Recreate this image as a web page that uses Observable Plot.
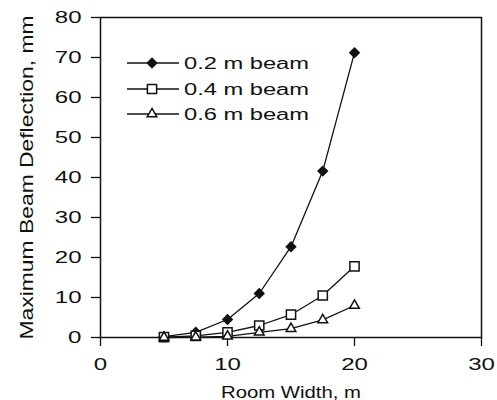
<!DOCTYPE html>
<html>
<head>
<meta charset="utf-8">
<script src="https://cdn.jsdelivr.net/npm/d3@7"></script>
<script src="https://cdn.jsdelivr.net/npm/@observablehq/plot@0.6"></script>
<style>
  html, body { margin: 0; padding: 0; background: #fff; }
  #wrap { position: relative; width: 497px; height: 400px; }
  svg text { fill: #111; }
  g[aria-label="y-axis tick label"] text, g[aria-label="x-axis tick label"] text { font-size: 16px; }
  g[aria-label="y-axis label"] text { font-size: 18px; }
  g[aria-label="x-axis label"] text { font-size: 16px; }
  #legend { position: absolute; left: 0; top: 0; pointer-events: none; }
</style>
</head>
<body>
<div id="wrap"></div>
<script>
const roomWidth = [5, 7.5, 10, 12.5, 15, 17.5, 20];
const beam02 = [0.2, 1.3, 4.5, 11.0, 22.7, 41.6, 71.2];
const beam04 = [0.1, 0.4, 1.3, 3.0, 5.7, 10.5, 17.8];
const beam06 = [0.0, 0.1, 0.3, 1.3, 2.2, 4.4, 8.0];
const seriesNames = ["0.2 m beam", "0.4 m beam", "0.6 m beam"];
const xTicks = [0, 10, 20, 30];
const yTicks = [0, 10, 20, 30, 40, 50, 60, 70, 80];
const xLabel = "Room Width, m";
const yLabel = "Maximum Beam Deflection, mm";

const seriesValues = [beam02, beam04, beam06];
const data = [];
seriesNames.forEach((name, i) => {
  roomWidth.forEach((w, j) => data.push({series: name, width: w, value: seriesValues[i][j]}));
});

const symbols = {"0.2 m beam": "diamond2", "0.4 m beam": "square", "0.6 m beam": "triangle"};
const fills = {"0.2 m beam": "#111", "0.4 m beam": "#fff", "0.6 m beam": "#fff"};
const radii = {"0.2 m beam": 4.2, "0.4 m beam": 5.2, "0.6 m beam": 3.6};

const chart = Plot.plot({
  width: 497,
  height: 400,
  marginLeft: 100,
  marginRight: 16,
  marginTop: 17,
  marginBottom: 63,
  style: {fontFamily: "'Liberation Sans', Arial, sans-serif", background: "#fff", color: "#111"},
  x: {domain: [0, 30], axis: null},
  y: {domain: [0, 80], axis: null},
  marks: [
    Plot.frame({stroke: "#111", strokeWidth: 1.5}),
    Plot.axisX({ticks: xTicks, tickSize: 9, tickPadding: 12, tickFormat: d => String(d), strokeWidth: 1.3,
      label: xLabel, labelAnchor: "center", labelOffset: 60, labelArrow: false}),
    Plot.axisY({ticks: yTicks, tickSize: 9, tickPadding: 10, tickFormat: d => String(d), strokeWidth: 1.3,
      label: yLabel, labelAnchor: "center", labelOffset: 80, labelArrow: false}),
    Plot.line(data, {x: "width", y: "value", z: "series", stroke: "#111", strokeWidth: 1.3}),
    ...seriesNames.map(name => Plot.dot(data.filter(d => d.series === name), {
      x: "width", y: "value", symbol: symbols[name], r: radii[name],
      fill: fills[name], stroke: "#111", strokeWidth: 1.5
    }))
  ]
});
const wrap = document.getElementById("wrap");
wrap.appendChild(chart);

// strip any label arrows
d3.select(chart).selectAll('g[aria-label$="axis label"] text').each(function() {
  this.textContent = this.textContent.replace(/\s*[↑↓→←]\s*/g, "").trim();
});

// widen glyphs to match the expanded typeface of the original
function stretch(sel, factor) {
  sel.each(function() {
    const len = this.getComputedTextLength();
    this.setAttribute("textLength", (len * factor).toFixed(1));
    this.setAttribute("lengthAdjust", "spacingAndGlyphs");
  });
}
stretch(d3.select(chart).selectAll('g[aria-label="y-axis tick label"] text, g[aria-label="x-axis tick label"] text'), 1.5);
stretch(d3.select(chart).selectAll('g[aria-label="y-axis label"] text'), 1.27);
stretch(d3.select(chart).selectAll('g[aria-label="x-axis label"] text'), 1.27);

// Legend overlay
const legendRows = [63, 89, 114];
const lg = d3.select(wrap).append("svg").attr("id", "legend").attr("width", 497).attr("height", 400);
const symMap = {"diamond2": d3.symbolDiamond2, "square": d3.symbolSquare, "triangle": d3.symbolTriangle};
seriesNames.forEach((name, i) => {
  const y = legendRows[i];
  lg.append("line").attr("x1", 127).attr("x2", 179).attr("y1", y).attr("y2", y).attr("stroke", "#111").attr("stroke-width", 1.3);
  const r = radii[name];
  lg.append("path").attr("d", d3.symbol(symMap[symbols[name]], Math.PI * r * r)())
    .attr("transform", `translate(152,${y})`).attr("fill", fills[name]).attr("stroke", "#111").attr("stroke-width", 1.5);
  const t = lg.append("text").attr("x", 184).attr("y", y + 6).text(name)
    .attr("font-family", "'Liberation Sans', Arial, sans-serif").attr("font-size", 16).attr("fill", "#111");
  stretch(t, 1.48);
});
</script>
</body>
</html>
